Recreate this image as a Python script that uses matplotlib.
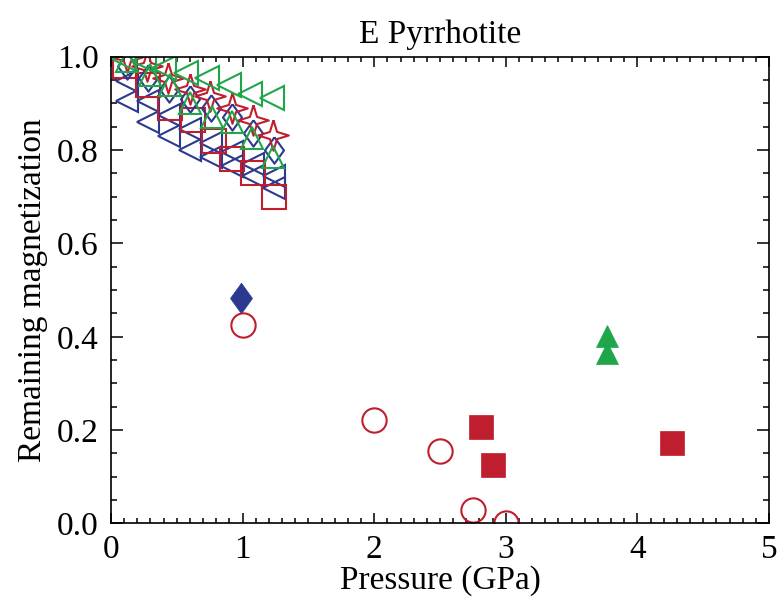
import numpy as np
import matplotlib
matplotlib.use("Agg")
import matplotlib.pyplot as plt
from matplotlib.ticker import MultipleLocator

plt.rcParams['font.family'] = ['Liberation Serif', 'DejaVu Serif']
plt.rcParams['mathtext.fontset'] = 'stix'

# ---- data ----
blue_tri_a_x = [0.12, 0.28, 0.44, 0.60, 0.76, 0.92, 1.08, 1.24]
blue_tri_a_y = [0.948, 0.905, 0.875, 0.845, 0.815, 0.795, 0.770, 0.745]
blue_tri_b_x = [0.12, 0.28, 0.44, 0.60, 0.76, 0.92, 1.08, 1.24]
blue_tri_b_y = [0.905, 0.860, 0.830, 0.800, 0.785, 0.765, 0.745, 0.718]

red_sq_x = [0.11, 0.28, 0.45, 0.62, 0.78, 0.92, 1.08, 1.24]
red_sq_y = [0.980, 0.940, 0.890, 0.865, 0.820, 0.780, 0.750, 0.700]

red_star_x = [0.12, 0.27, 0.43, 0.60, 0.75, 0.92, 1.08, 1.23]
red_star_y = [1.000, 0.980, 0.955, 0.930, 0.915, 0.890, 0.865, 0.832]

blue_dia_x = [0.12, 0.28, 0.44, 0.60, 0.76, 0.92, 1.08, 1.24]
blue_dia_y = [0.980, 0.955, 0.930, 0.910, 0.890, 0.870, 0.836, 0.800]

green_up_x = [0.12, 0.30, 0.45, 0.60, 0.77, 0.92, 1.07, 1.23]
green_up_y = [0.990, 0.960, 0.940, 0.900, 0.870, 0.860, 0.826, 0.785]

green_left_x = [0.10, 0.25, 0.40, 0.57, 0.73, 0.90, 1.06, 1.22]
green_left_y = [0.995, 0.990, 0.975, 0.965, 0.955, 0.940, 0.920, 0.912]

blue_fdia_x = [0.99]
blue_fdia_y = [0.483]

red_circ_x = [1.0, 2.0, 2.5, 2.75, 3.0]
red_circ_y = [0.425, 0.222, 0.155, 0.029, 0.0]

red_fsq_x = [2.81, 2.90, 4.26]
red_fsq_y = [0.207, 0.125, 0.172]

green_ftri_x = [3.77, 3.77]
green_ftri_y = [0.401, 0.365]

title = "E Pyrrhotite"
xlabel = "Pressure (GPa)"
ylabel = "Remaining magnetization"

# ---- styles ----
BLUE = '#2B3990'
RED = '#BE1E2D'
GREEN = '#1FA64A'

star_verts = []
for k in range(8):
    ang = np.pi / 2 + k * np.pi / 4
    r = 1.0 if k % 2 == 0 else 0.33
    star_verts.append((r * np.cos(ang), r * np.sin(ang)))
star_verts.append(star_verts[0])
dia_verts = [(0, 1), (0.72, 0), (0, -1), (-0.72, 0), (0, 1)]

fig = plt.figure(figsize=(7.8, 6.02), dpi=100)
ax = fig.add_axes([0.1423, 0.1304, 0.8436, 0.7754])

lw = 1.5
ax.plot(blue_tri_a_x, blue_tri_a_y, ls='none', marker='<', ms=15.5, mfc='none', mec=BLUE, mew=lw)
ax.plot(blue_tri_b_x, blue_tri_b_y, ls='none', marker='<', ms=15.5, mfc='none', mec=BLUE, mew=lw)
ax.plot(red_sq_x, red_sq_y, ls='none', marker='s', ms=17, mfc='none', mec=RED, mew=lw)
ax.plot(blue_dia_x, blue_dia_y, ls='none', marker=dia_verts, ms=19, mfc='none', mec=BLUE, mew=lw)
ax.plot(red_star_x, red_star_y, ls='none', marker=star_verts, ms=22, mfc='none', mec=RED, mew=lw)
ax.plot(green_up_x, green_up_y, ls='none', marker='^', ms=16, mfc='none', mec=GREEN, mew=lw)
ax.plot(green_left_x, green_left_y, ls='none', marker='<', ms=17, mfc='none', mec=GREEN, mew=lw)

ax.plot(blue_fdia_x, blue_fdia_y, ls='none', marker=dia_verts, ms=22, mfc=BLUE, mec=BLUE, mew=0.5)
ax.plot(red_circ_x, red_circ_y, ls='none', marker='o', ms=17.5, mfc='none', mec=RED, mew=lw)
ax.plot(red_fsq_x, red_fsq_y, ls='none', marker='s', ms=17, mfc=RED, mec=RED, mew=0.5)
ax.plot(green_ftri_x, green_ftri_y, ls='none', marker='^', ms=16, mfc=GREEN, mec=GREEN, mew=0.5)

ax.set_xlim(0, 5)
ax.set_ylim(0, 1.0)
ax.xaxis.set_major_locator(MultipleLocator(1))
ax.xaxis.set_minor_locator(MultipleLocator(0.1))
ax.yaxis.set_major_locator(MultipleLocator(0.2))
ax.yaxis.set_minor_locator(MultipleLocator(0.05))
ax.xaxis.set_major_formatter(matplotlib.ticker.FormatStrFormatter('%d'))
ax.yaxis.set_major_formatter(matplotlib.ticker.FormatStrFormatter('%.1f'))

for sp in ax.spines.values():
    sp.set_linewidth(1.2)
ax.tick_params(which='both', direction='in', top=True, right=True, width=1.1, colors='black')
ax.tick_params(axis='x', which='major', length=7, pad=8, labelsize=24)
ax.tick_params(axis='x', which='minor', length=3.5)
ax.tick_params(axis='y', which='major', length=8.5, pad=9, labelsize=24)
ax.tick_params(axis='y', which='minor', length=4.3)

ax.set_title(title, fontsize=24, pad=10)
ax.set_xlabel(xlabel, fontsize=24, labelpad=0)
ax.set_ylabel(ylabel, fontsize=24, labelpad=6)

fig.savefig('out.png', dpi=100)
